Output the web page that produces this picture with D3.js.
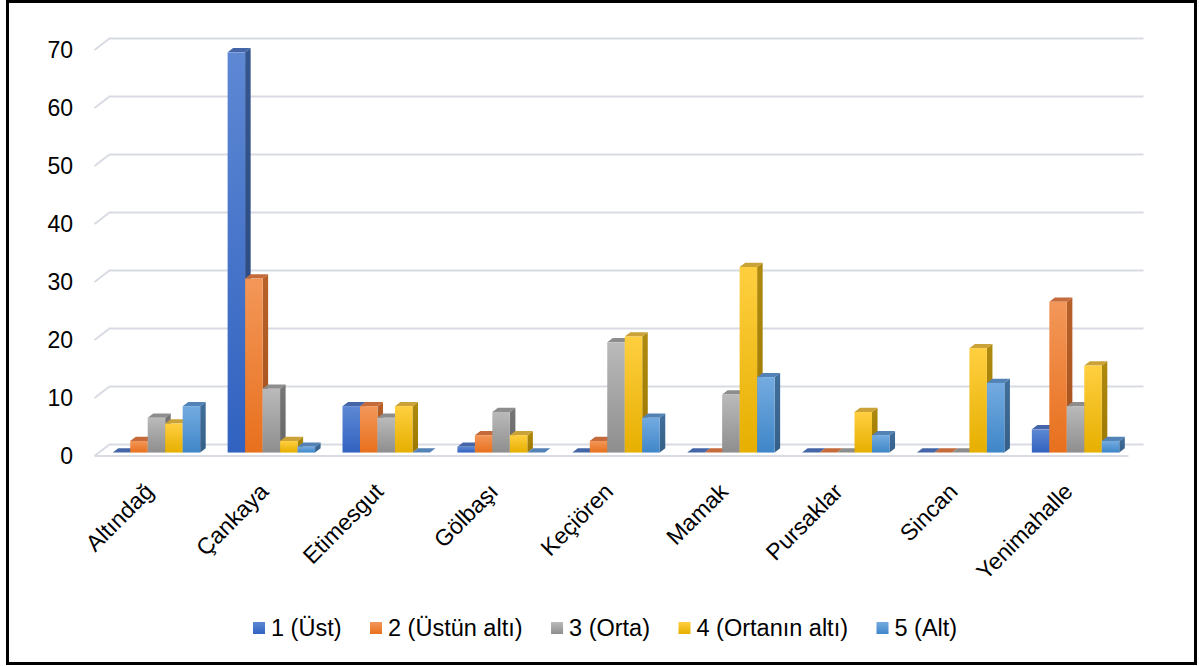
<!DOCTYPE html>
<html>
<head>
<meta charset="utf-8">
<script src="https://cdn.jsdelivr.net/npm/d3@7"></script>
<style>
  html, body { margin: 0; padding: 0; background: #fff; }
  svg { display: block; }
  text { font-family: "Liberation Sans", Arial, sans-serif; fill: #000; }
</style>
</head>
<body>
<script>
// ---------- data ----------
const categories = ["Altındağ", "Çankaya", "Etimesgut", "Gölbaşı", "Keçiören", "Mamak", "Pursaklar", "Sincan", "Yenimahalle"];
const seriesNames = ["1 (Üst)", "2 (Üstün altı)", "3 (Orta)", "4 (Ortanın altı)", "5 (Alt)"];
const s1 = [0, 69, 8, 1, 0, 0, 0, 0, 4];
const s2 = [2, 30, 8, 3, 2, 0, 0, 0, 26];
const s3 = [6, 11, 6, 7, 19, 10, 0, 0, 8];
const s4 = [5, 2, 8, 3, 20, 32, 7, 18, 15];
const s5 = [8, 1, 0, 0, 6, 13, 3, 12, 2];
const seriesValues = [s1, s2, s3, s4, s5];
const yTicks = [0, 10, 20, 30, 40, 50, 60, 70];

// ---------- styles ----------
const palette = [
  { front: ["#5e88d4", "#3162c0"], side: ["#35568f", "#2a467c"], top: "#4466a8" },
  { front: ["#f39759", "#e8701d"], side: ["#b8602a", "#a4511b"], top: "#c56a3a" },
  { front: ["#bababa", "#8e8e8e"], side: ["#777777", "#656565"], top: "#8d8d8d" },
  { front: ["#ffcf40", "#e6af00"], side: ["#ae8a10", "#9c7800"], top: "#caa238" },
  { front: ["#74abe0", "#3f86c8"], side: ["#41709c", "#355f88"], top: "#5282b6" }
];
const FS = 23;
const LFS = 23.5;

const W = 1199, H = 666;
const svg = d3.select("body").append("svg").attr("width", W).attr("height", H);
const defs = svg.append("defs");
palette.forEach((p, i) => {
  const gf = defs.append("linearGradient").attr("id", "gf" + i)
    .attr("x1", 0).attr("y1", 0).attr("x2", 0).attr("y2", 1);
  gf.append("stop").attr("offset", "0%").attr("stop-color", p.front[0]);
  gf.append("stop").attr("offset", "100%").attr("stop-color", p.front[1]);
  const gs = defs.append("linearGradient").attr("id", "gs" + i)
    .attr("x1", 0).attr("y1", 0).attr("x2", 0).attr("y2", 1);
  gs.append("stop").attr("offset", "0%").attr("stop-color", p.side[0]);
  gs.append("stop").attr("offset", "100%").attr("stop-color", p.side[1]);
});

// outer border
svg.append("rect").attr("x", 7.5).attr("y", 1.5).attr("width", 1188).attr("height", 662)
  .attr("fill", "none").attr("stroke", "#000").attr("stroke-width", 3);

// ---------- geometry ----------
const x0 = 94.5, x1 = 1128.5;       // front floor edge
const DX = 15, DY = -11.5;           // full depth offset
const fFront = 0.3, fDepth = 0.37;   // bar front plane and bar depth (fractions)

const xCat = d3.scaleBand().domain(categories).range([x0, x1]).paddingInner(0.239).paddingOuter(0.1195);
const xSer = d3.scaleBand().domain(seriesNames).range([0, xCat.bandwidth()]);
const y = d3.scaleLinear().domain([0, 70]).range([456, 50]);

// gridlines
const gridG = svg.append("g");
gridG.selectAll("path.grid").data(yTicks).join("path")
  .attr("class", "grid")
  .attr("d", t => `M${x0},${y(t)}L${x0 + DX},${y(t) + DY}L${x1 + DX},${y(t) + DY}`)
  .attr("fill", "none").attr("stroke", "#d9dbe3").attr("stroke-width", 2);
gridG.append("path")
  .attr("d", `M${x0},${y(0)}L${x1},${y(0)}`)
  .attr("fill", "none").attr("stroke", "#d9dbe3").attr("stroke-width", 2);

// y tick labels
svg.append("g").selectAll("text").data(yTicks).join("text")
  .attr("x", 73).attr("y", t => y(t)).attr("dy", "0.36em")
  .attr("text-anchor", "end").attr("font-size", FS)
  .text(t => t);

// bars
const ox = DX * fFront, oy = DY * fFront;
const bx = DX * fDepth, by = DY * fDepth;
const barsG = svg.append("g");
categories.forEach((c, ci) => {
  seriesNames.forEach((s, si) => {
    const v = seriesValues[si][ci];
    const xl = xCat(c) + xSer(s) + ox;
    const w = xSer.bandwidth();
    const yt = y(v) + oy, yb = y(0) + oy;
    const g = barsG.append("g");
    if (v > 0) {
      g.append("path")
        .attr("d", `M${xl + w},${yt}L${xl + w + bx},${yt + by}L${xl + w + bx},${yb + by}L${xl + w},${yb}Z`)
        .attr("fill", `url(#gs${si})`);
    }
    g.append("path")
      .attr("d", `M${xl},${yt}L${xl + bx},${yt + by}L${xl + w + bx},${yt + by}L${xl + w},${yt}Z`)
      .attr("fill", palette[si].top);
    if (v > 0) {
      g.append("rect").attr("x", xl).attr("y", yt).attr("width", w).attr("height", yb - yt)
        .attr("fill", `url(#gf${si})`);
    }
  });
});

// category labels
svg.append("g").selectAll("text").data(categories).join("text")
  .attr("text-anchor", "end").attr("font-size", FS)
  .attr("transform", c => `translate(${xCat(c) + xCat.bandwidth() / 2 + 3},${493}) rotate(-45)`)
  .text(c => c);

// legend
const legend = svg.append("g");
let lx = 253;
const ly = 628;
seriesNames.forEach((s, si) => {
  legend.append("rect").attr("x", lx).attr("y", ly - 6).attr("width", 12).attr("height", 12)
    .attr("fill", `url(#gf${si})`);
  const t = legend.append("text").attr("x", lx + 18).attr("y", ly).attr("dy", "0.36em")
    .attr("font-size", LFS).text(s);
  lx += 18 + t.node().getComputedTextLength() + 28.5;
});
</script>
</body>
</html>
